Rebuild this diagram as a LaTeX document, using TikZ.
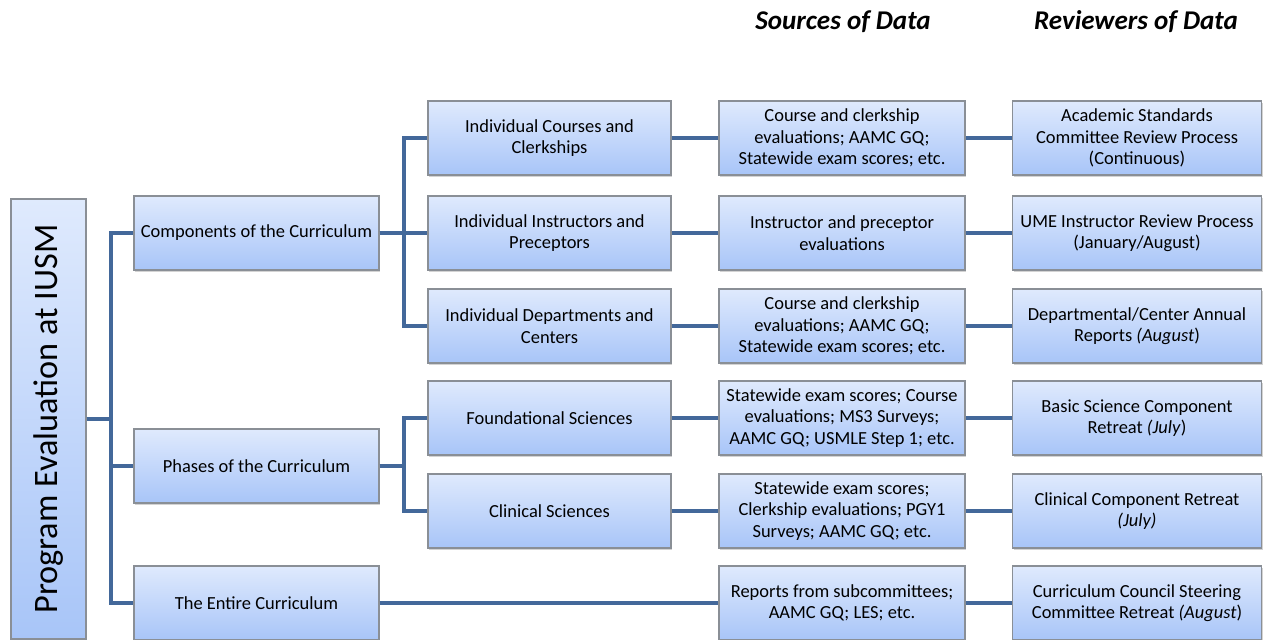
\documentclass[tikz,border=0pt]{standalone}
\usepackage{fontspec}
\setmainfont{Carlito}
\usetikzlibrary{shadows}

\definecolor{boxtop}{HTML}{DFEAFD}
\definecolor{boxbot}{HTML}{A8C5F8}
\definecolor{boxline}{HTML}{8A8F96}
\definecolor{linkblue}{HTML}{43689A}

\tikzset{
  box/.style={draw=boxline, line width=0.6pt, top color=boxtop, bottom color=boxbot,
    drop shadow={shadow xshift=0.6pt, shadow yshift=-1.2pt, opacity=0.35},
    align=center, inner sep=1pt, minimum height=1.48cm,
    font=\fontsize{10.5}{12.2}\selectfont},
  lvlone/.style={box, minimum width=4.9cm},
  lvltwo/.style={box, minimum width=4.86cm},
  srcbox/.style={box, minimum width=4.92cm},
  revbox/.style={box, minimum width=4.98cm},
  link/.style={draw=linkblue, line width=2.3pt},
  head/.style={font=\fontsize{15.4}{17}\selectfont\bfseries\itshape}
}

\begin{document}
\begin{tikzpicture}
  \useasboundingbox (0,0) rectangle (25.26,-12.8);

  % column headings
  \node[head] (hsrc) at (16.86,-0.44) {Sources of Data};
  \node[head] (hrev) at (22.72,-0.44) {Reviewers of Data};

  % root
  \node[box, minimum width=1.5cm, minimum height=8.8cm] (root) at (0.97,-8.38)
    {\rotatebox{90}{\fontsize{19.5}{21}\selectfont Program Evaluation at IUSM}};

  % first level
  \node[lvlone] (comp) at (5.13,-4.66) {Components of the Curriculum};
  \node[lvlone] (phase) at (5.13,-9.32) {Phases of the Curriculum};
  \node[lvlone] (whole) at (5.13,-12.06) {The Entire Curriculum};

  % second level
  \node[lvltwo] (courses) at (10.99,-2.76) {Individual Courses and\\Clerkships};
  \node[lvltwo] (instr) at (10.99,-4.66) {Individual Instructors and\\Preceptors};
  \node[lvltwo] (depts) at (10.99,-6.52) {Individual Departments and\\Centers};
  \node[lvltwo] (found) at (10.99,-8.36) {Foundational Sciences};
  \node[lvltwo] (clin) at (10.99,-10.22) {Clinical Sciences};

  % sources of data
  \node[srcbox] (S1) at (16.84,-2.76) {Course and clerkship\\evaluations; AAMC GQ;\\Statewide exam scores; etc.};
  \node[srcbox] (S2) at (16.84,-4.66) {Instructor and preceptor\\evaluations};
  \node[srcbox] (S3) at (16.84,-6.52) {Course and clerkship\\evaluations; AAMC GQ;\\Statewide exam scores; etc.};
  \node[srcbox] (S4) at (16.84,-8.36) {Statewide exam scores; Course\\evaluations; MS3 Surveys;\\AAMC GQ; USMLE Step 1; etc.};
  \node[srcbox] (S5) at (16.84,-10.22) {Statewide exam scores;\\Clerkship evaluations; PGY1\\Surveys; AAMC GQ; etc.};
  \node[srcbox] (S6) at (16.84,-12.06) {Reports from subcommittees;\\AAMC GQ; LES; etc.};

  % reviewers of data
  \node[revbox] (R1) at (22.74,-2.76) {Academic Standards\\Committee Review Process\\(Continuous)};
  \node[revbox] (R2) at (22.74,-4.66) {UME Instructor Review Process\\(January/August)};
  \node[revbox] (R3) at (22.74,-6.52) {Departmental/Center Annual\\Reports \textit{(August})};
  \node[revbox] (R4) at (22.74,-8.36) {Basic Science Component\\Retreat \textit{(July})};
  \node[revbox] (R5) at (22.74,-10.22) {Clinical Component Retreat\\\textit{(July)}};
  \node[revbox] (R6) at (22.74,-12.06) {Curriculum Council Steering\\Committee Retreat \textit{(August})};

  % connectors
  \begin{scope}[on background layer/.try]
  \draw[link] (root.east) -- ++(0.48,0) |- (comp.west);
  \draw[link] (root.east) -- ++(0.48,0) |- (phase.west);
  \draw[link] (root.east) -- ++(0.48,0) |- (whole.west);
  \draw[link] (comp.east) -- ++(0.48,0) |- (courses.west);
  \draw[link] (comp.east) -- ++(0.48,0) |- (instr.west);
  \draw[link] (comp.east) -- ++(0.48,0) |- (depts.west);
  \draw[link] (phase.east) -- ++(0.48,0) |- (found.west);
  \draw[link] (phase.east) -- ++(0.48,0) |- (clin.west);
  \draw[link] (courses) -- (S1);
  \draw[link] (instr) -- (S2);
  \draw[link] (depts) -- (S3);
  \draw[link] (found) -- (S4);
  \draw[link] (clin) -- (S5);
  \draw[link] (whole) -- (S6);
  \draw[link] (S1) -- (R1);
  \draw[link] (S2) -- (R2);
  \draw[link] (S3) -- (R3);
  \draw[link] (S4) -- (R4);
  \draw[link] (S5) -- (R5);
  \draw[link] (S6) -- (R6);
  \end{scope}
\end{tikzpicture}
\end{document}
